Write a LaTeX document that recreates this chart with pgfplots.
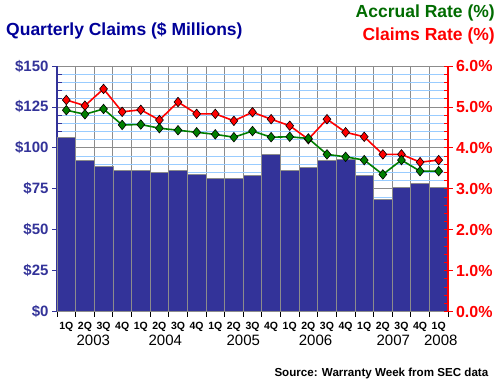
\documentclass[border=0pt]{standalone}
\usepackage{pgfplots}
\pgfplotsset{compat=1.18}
\usepackage{fontspec}
\setmainfont{Liberation Sans}
\definecolor{navy}{HTML}{333399}
\definecolor{dnavy}{HTML}{000099}
\definecolor{grn}{HTML}{007F00}
\definecolor{lblue}{HTML}{99CCFF}
\definecolor{ggray}{HTML}{8C8C8C}
\begin{document}
\begin{tikzpicture}[x=1bp,y=1bp]
\useasboundingbox[fill=white] (0,0) rectangle (500,385);
% ---- bars, left axis ----
\begin{axis}[
  at={(57bp,73.5bp)}, anchor=south west,
  scale only axis, width=391bp, height=245.5bp,
  xmin=0.5, xmax=21.5, ymin=0, ymax=150,
  axis x line*=bottom, axis y line*=left,
  x axis line style={black, line width=0.8bp},
  y axis line style={navy, line width=1.2bp},
  tick align=outside, major tick length=5bp,
  xtick={0.5,1.5,...,21.5}, xticklabels={},
  xtick style={black, line width=0.8bp},
  ytick={0,25,...,150},
  yticklabels={\$0,\$25,\$50,\$75,\$100,\$125,\$150},
  ytick style={navy, line width=0.8bp},
  yticklabel style={font=\fontsize{15bp}{15bp}\selectfont\bfseries, text=navy},
  extra y ticks={5,10,15,20,30,35,40,45,55,60,65,70,80,85,90,95,105,110,115,120,130,135,140,145},
  extra y tick labels={},
  extra y tick style={tick align=inside, major grid style={lblue, line width=0.8bp}},
  xmajorgrids, ymajorgrids,
  major grid style={ggray, line width=0.8bp},
]
\addplot[ybar, bar width=1, bar shift=0pt, fill=navy, draw=ggray, line width=0.7bp]
coordinates {(1,106.4) (2,92.4) (3,88.7) (4,86.3) (5,86.3) (6,85.0) (7,86.3)
 (8,83.8) (9,81.4) (10,81.4) (11,83.2) (12,96.0) (13,86.0) (14,88.1) (15,92.4)
 (16,93.0) (17,83.0) (18,68.6) (19,75.9) (20,78.1) (21,75.9)};
\end{axis}
% ---- rates, right axis ----
\begin{axis}[
  at={(57bp,73.5bp)}, anchor=south west,
  scale only axis, width=391bp, height=245.5bp,
  xmin=0.5, xmax=21.5, ymin=0, ymax=6,
  axis x line=none, axis y line*=right,
  y axis line style={red, line width=1.2bp},
  tick align=center, major tick length=9bp,
  ytick={0,1,...,6},
  yticklabels={0.0\%,1.0\%,2.0\%,3.0\%,4.0\%,5.0\%,6.0\%},
  ytick style={red, line width=0.8bp},
  yticklabel style={font=\fontsize{16bp}{16bp}\selectfont\bfseries, text=red},
  extra y ticks={0.2,0.4,0.6,0.8,1.2,1.4,1.6,1.8,2.2,2.4,2.6,2.8,3.2,3.4,3.6,3.8,4.2,4.4,4.6,4.8,5.2,5.4,5.6,5.8},
  extra y tick labels={},
  extra y tick style={tick align=inside, major tick length=4.5bp},
  clip=false,
]
\addplot[red, line width=1.6bp, mark=diamond*, mark size=4.75bp,
  mark options={fill=red, draw=black, line width=0.6bp, xscale=1.1}]
coordinates {(1,5.17) (2,5.03) (3,5.44) (4,4.88) (5,4.93) (6,4.68) (7,5.12)
 (8,4.83) (9,4.83) (10,4.66) (11,4.87) (12,4.70) (13,4.54) (14,4.21) (15,4.70)
 (16,4.38) (17,4.27) (18,3.84) (19,3.84) (20,3.65) (21,3.70)};
\addplot[grn, line width=1.6bp, mark=diamond*, mark size=4.75bp,
  mark options={fill=grn, draw=black, line width=0.6bp, xscale=1.1}]
coordinates {(1,4.92) (2,4.82) (3,4.95) (4,4.56) (5,4.57) (6,4.48) (7,4.43)
 (8,4.38) (9,4.33) (10,4.26) (11,4.41) (12,4.26) (13,4.27) (14,4.23) (15,3.84)
 (16,3.78) (17,3.70) (18,3.35) (19,3.70) (20,3.43) (21,3.43)};
\end{axis}
% ---- texts ----
\node[anchor=base west, inner sep=0, text=dnavy, font=\fontsize{17.5bp}{17.5bp}\selectfont\bfseries] at (6,350) {Quarterly Claims (\$ Millions)};
\node[anchor=base east, inner sep=0, text=grn!85!black, font=\fontsize{17.5bp}{17.5bp}\selectfont\bfseries] at (495,367.5) {Accrual Rate (\%)};
\node[anchor=base east, inner sep=0, text=red, font=\fontsize{17.5bp}{17.5bp}\selectfont\bfseries] at (495,344.5) {Claims Rate (\%)};
\foreach \k/\lab in {1/1Q,2/2Q,3/3Q,4/4Q,5/1Q,6/2Q,7/3Q,8/4Q,9/1Q,10/2Q,11/3Q,12/4Q,13/1Q,14/2Q,15/3Q,16/4Q,17/1Q,18/2Q,19/3Q,20/4Q,21/1Q}
  \node[anchor=base, inner sep=0, font=\fontsize{10.5bp}{10.5bp}\selectfont\bfseries] at ({57+18.619*(\k-0.5)},55.5) {\lab};
\foreach \xx/\yr in {93.3/2003,165.3/2004,243.3/2005,315.5/2006,393.3/2007,440.8/2008}
  \node[anchor=base, inner sep=0, font=\fontsize{15bp}{15bp}\selectfont] at (\xx,39.3) {\yr};
\node[anchor=base east, inner sep=0, font=\fontsize{11.6bp}{11.6bp}\selectfont\bfseries] at (488.5,8.5) {Source: Warranty Week from SEC data};
\end{tikzpicture}
\end{document}
